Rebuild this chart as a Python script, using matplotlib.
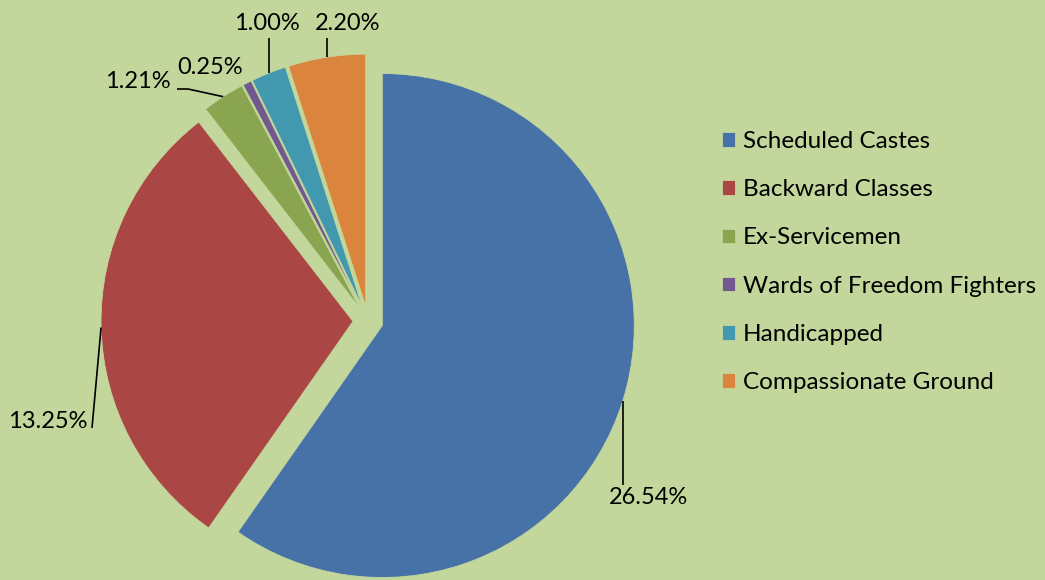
import math
import matplotlib
matplotlib.use('Agg')
import matplotlib.pyplot as plt

# data
categories = ['Scheduled Castes', 'Backward Classes', 'Ex-Servicemen',
              'Wards of Freedom Fighters', 'Handicapped', 'Compassionate Ground']
percent = [26.54, 13.25, 1.21, 0.25, 1.00, 2.20]
colors = ['#4672A8', '#AA4644', '#8AA54F', '#71588F', '#4298AF', '#DB843D']
bg = '#C3D69B'

plt.rcParams['font.family'] = ['Lato', 'DejaVu Sans']

W, H = 1045, 580
fig = plt.figure(figsize=(W / 100, H / 100), dpi=100, facecolor=bg)
ax = fig.add_axes([0, 0, 1, 1])
ax.set_facecolor(bg)

# pie laid out in pixel units (y flipped: data y = H - pixel y)
wedges, _ = ax.pie(percent, colors=colors, startangle=90, counterclock=False,
                   radius=252, center=(368, H - 321), explode=[15] * len(percent),
                   wedgeprops=dict(edgecolor=bg, linewidth=0.6))
ax.set_xlim(0, W)
ax.set_ylim(0, H)
ax.set_aspect('equal')
ax.axis('off')

# label text centres and leader bend points (pixel coords)
label_pos = [(649, 498), (48, 421), (138, 81), (210, 67), (267, 23), (348, 23)]
leaders = [[('x', 485)], [(92, 428)], [(188, 89), (177, 89)], [],
           [('x', 38)], [('x', 38)]]

fs = 17
for w, val, (tx, ty), lead in zip(wedges, percent, label_pos, leaders):
    mid = math.radians((w.theta1 + w.theta2) / 2)
    ax_, ay_ = w.center[0] + w.r * math.cos(mid), w.center[1] + w.r * math.sin(mid)
    xs, ys = [ax_], [ay_]
    for px, py in lead:
        xs.append(ax_ if px == 'x' else px)
        ys.append(H - py)
    if lead:
        ax.plot(xs, ys, color='black', lw=1.2, solid_capstyle='butt')
    ax.text(tx, H - ty, '{:.2f}%'.format(val), ha='center', va='center',
            fontsize=fs, color='black')

leg = fig.legend(wedges, categories, loc='upper left',
                 bbox_to_anchor=(722 / W, 1 - 131 / H), frameon=False,
                 fontsize=17.5, handlelength=0.54, handleheight=0.54,
                 handletextpad=0.33, labelspacing=1.12, borderpad=0,
                 borderaxespad=0)

fig.savefig('out.png', dpi=100, facecolor=bg)
